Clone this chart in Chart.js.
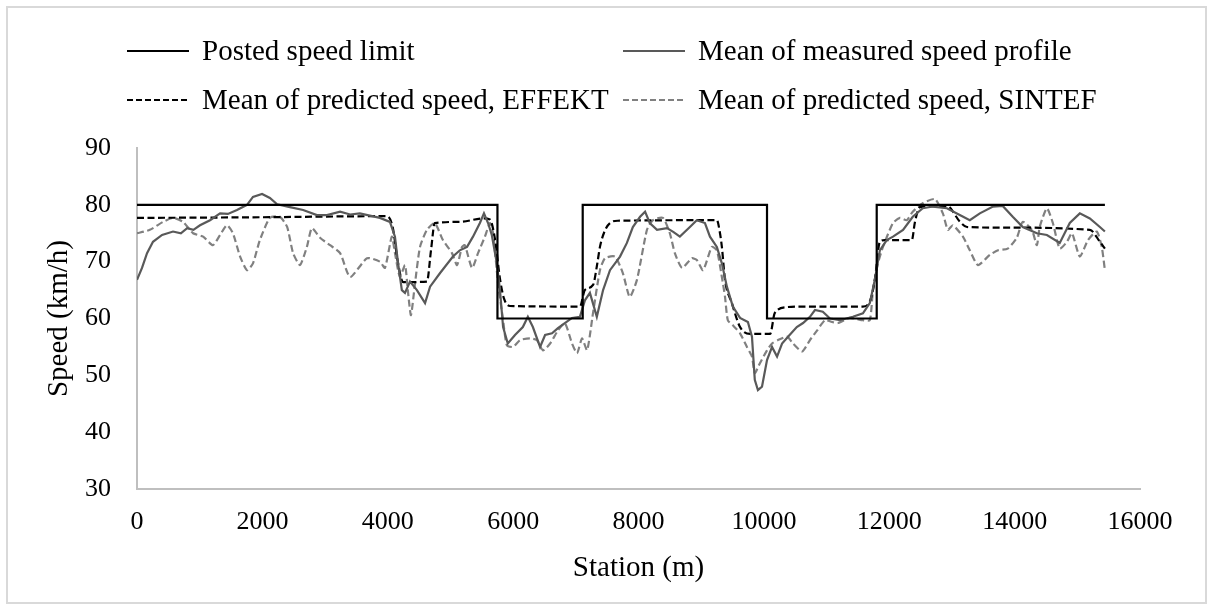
<!DOCTYPE html>
<html>
<head>
<meta charset="utf-8">
<script src="https://cdn.jsdelivr.net/npm/chart.js@4.4.1/dist/chart.umd.min.js"></script>
<style>
  html, body { margin: 0; padding: 0; background: #fff; }
  #wrap { width: 1213px; height: 610px; }
</style>
</head>
<body>
<div id="wrap"><canvas id="speedChart" width="1213" height="610"></canvas></div>
<script>
'use strict';

// ── Data (station m, speed km/h) ─────────────────────────────
const stationTicks = [0, 2000, 4000, 6000, 8000, 10000, 12000, 14000, 16000];
const speedTicks   = [30, 40, 50, 60, 70, 80, 90];

const seriesLabels = [
    'Posted speed limit',
    'Mean of measured speed profile',
    'Mean of predicted speed, EFFEKT',
    'Mean of predicted speed, SINTEF'
];

const postedLimit = [
    [0, 80], [5750, 80], [5750, 60], [7110, 60], [7110, 80],
    [10050, 80], [10050, 60], [11800, 60], [11800, 80], [15440, 80]
];

const measuredProfile = [
    [0, 66.8], [80, 68.9], [160, 71.5], [255, 73.5], [400, 74.7], [575, 75.3], [700, 75.0], [800, 75.9],
    [900, 75.6], [1005, 76.4], [1165, 77.3], [1325, 78.5], [1450, 78.4], [1595, 79.1], [1755, 80.0], [1850, 81.4],
    [1995, 81.9], [2120, 81.2], [2235, 80.1], [2440, 79.6], [2650, 79.1], [2870, 78.2], [3030, 78.2], [3240, 78.8],
    [3400, 78.3], [3555, 78.5], [3875, 77.7], [4035, 77.0], [4115, 74.4], [4165, 69.7], [4225, 65.0], [4275, 64.5],
    [4355, 66.5], [4465, 65.0], [4595, 62.7], [4675, 65.6], [4835, 68.0], [5040, 70.9], [5150, 72.0], [5265, 72.6],
    [5360, 74.4], [5470, 76.8], [5535, 78.5], [5600, 76.8], [5660, 74.7], [5740, 69.7], [5790, 65.0], [5840, 58.5],
    [5915, 55.6], [6030, 57.1], [6155, 58.5], [6235, 60.3], [6315, 58.5], [6430, 55.0], [6510, 57.1], [6620, 57.4],
    [6715, 58.3], [6825, 59.2], [6940, 60.1], [7065, 60.3], [7145, 63.2], [7225, 64.5], [7335, 60.3], [7435, 65.0],
    [7545, 68.5], [7705, 70.9], [7815, 73.3], [7910, 76.1], [8025, 77.9], [8105, 78.8], [8180, 76.8], [8295, 75.6],
    [8455, 75.9], [8560, 75.2], [8660, 74.4], [8820, 76.1], [8930, 77.3], [9060, 76.8], [9140, 74.4], [9250, 72.6],
    [9330, 69.7], [9410, 65.6], [9505, 62.1], [9620, 60.1], [9745, 59.4], [9810, 56.8], [9855, 49.2], [9905, 47.4],
    [9970, 48.0], [10050, 52.7], [10130, 55.0], [10210, 53.3], [10290, 55.6], [10385, 56.8], [10525, 58.5], [10625, 59.2],
    [10735, 60.3], [10815, 61.5], [10940, 61.2], [11055, 60.0], [11215, 59.7], [11420, 60.3], [11580, 60.9], [11690, 62.7],
    [11770, 66.8], [11850, 72.0], [11960, 73.8], [12060, 74.4], [12220, 75.6], [12375, 77.9], [12535, 79.4], [12695, 79.7],
    [12920, 79.4], [13125, 78.2], [13285, 77.3], [13445, 78.5], [13655, 79.7], [13810, 79.8], [13970, 77.9], [14130, 76.1],
    [14355, 75.0], [14515, 74.7], [14720, 73.3], [14880, 76.8], [15040, 78.5], [15200, 77.6], [15360, 76.1], [15440, 75.3]
];

const effektPrediction = [
    [0, 77.7], [1800, 77.8], [3990, 78.0], [4080, 76.0], [4160, 70.0], [4245, 66.4], [4625, 66.5], [4690, 72.0],
    [4750, 76.8], [5150, 77.0], [5520, 77.6], [5630, 77.4], [5710, 74.0], [5790, 67.0], [5855, 63.5], [5950, 62.2],
    [7065, 62.1], [7145, 65.0], [7275, 65.9], [7340, 69.5], [7385, 72.6], [7465, 75.5], [7545, 76.8], [7670, 77.2],
    [9250, 77.3], [9300, 75.0], [9330, 72.6], [9380, 66.8], [9490, 62.7], [9620, 58.5], [9780, 57.3], [10100, 57.3],
    [10175, 61.0], [10370, 62.0], [10575, 62.1], [11580, 62.1], [11690, 63.0], [11770, 66.8], [11850, 73.5], [11930, 73.8],
    [12360, 73.8], [12410, 77.0], [12490, 79.6], [12920, 79.8], [13130, 77.0], [13240, 76.1], [13765, 76.0], [15200, 75.6],
    [15360, 73.5], [15440, 72.3]
];

const sintefPrediction = [
    [0, 75.0], [205, 75.6], [415, 77.0], [575, 77.7], [735, 77.0], [895, 75.0], [1055, 74.4], [1210, 72.9],
    [1325, 74.7], [1435, 76.4], [1530, 75.0], [1645, 70.9], [1755, 68.5], [1850, 69.7], [1960, 73.8], [2120, 77.7],
    [2280, 77.9], [2395, 76.1], [2490, 71.5], [2600, 69.4], [2710, 72.6], [2790, 75.9], [2920, 74.2], [3080, 72.9],
    [3240, 71.5], [3400, 67.3], [3670, 70.6], [3875, 70.0], [3955, 68.9], [4065, 74.4], [4115, 71.5], [4195, 67.3],
    [4275, 69.4], [4320, 65.0], [4370, 60.6], [4435, 66.2], [4515, 72.6], [4625, 75.6], [4750, 76.8], [4880, 73.8],
    [5025, 71.5], [5105, 69.4], [5185, 72.6], [5230, 72.9], [5345, 68.9], [5440, 71.5], [5550, 74.4], [5630, 76.8],
    [5680, 75.0], [5760, 66.2], [5840, 59.7], [5900, 55.3], [6000, 55.0], [6110, 56.2], [6270, 56.5], [6380, 56.2],
    [6475, 54.4], [6590, 55.6], [6715, 57.9], [6825, 59.2], [6940, 55.6], [7020, 53.9], [7100, 56.5], [7180, 54.4],
    [7275, 61.0], [7385, 68.5], [7465, 70.6], [7625, 70.9], [7750, 68.0], [7860, 63.8], [7975, 66.8], [8135, 75.6],
    [8230, 77.3], [8390, 77.7], [8500, 75.0], [8580, 71.5], [8695, 68.9], [8850, 70.6], [8930, 70.3], [9030, 68.5],
    [9170, 72.6], [9250, 72.0], [9330, 67.3], [9380, 63.8], [9425, 59.7], [9505, 58.8], [9620, 57.4], [9730, 55.0],
    [9810, 53.3], [9855, 50.4], [9935, 52.1], [10050, 54.4], [10130, 55.6], [10225, 56.2], [10370, 56.8], [10465, 55.6],
    [10610, 54.2], [10735, 56.2], [10850, 57.9], [10975, 59.7], [11085, 59.4], [11180, 59.2], [11370, 60.1], [11580, 59.7],
    [11690, 59.7], [11740, 65.0], [11820, 69.7], [11900, 72.6], [12060, 76.8], [12170, 77.7], [12280, 77.3], [12375, 78.8],
    [12535, 80.3], [12730, 81.0], [12855, 78.5], [12935, 75.6], [13015, 76.4], [13175, 74.4], [13285, 72.0], [13415, 69.4],
    [13605, 71.2], [13735, 72.0], [13890, 72.3], [14035, 74.2], [14130, 77.0], [14275, 75.6], [14355, 72.9], [14400, 76.1],
    [14515, 79.4], [14610, 76.8], [14720, 72.3], [14835, 73.5], [14915, 75.0], [15040, 70.9], [15170, 73.8], [15310, 75.3],
    [15390, 72.6], [15440, 68.5]
];

// ── Helpers ───────────────────────────────────────────────────
const FONT = '"Liberation Serif", "Times New Roman", serif';
const toPoints = arr => arr.map(([x, y]) => ({ x, y }));

// legend in two fixed columns + outer frame, like the Excel export
const frameAndLegend = {
    id: 'frameAndLegend',
    afterDraw(chart) {
        const ctx = chart.ctx;
        ctx.save();
        ctx.strokeStyle = '#d9d9d9';
        ctx.lineWidth = 2;
        ctx.setLineDash([]);
        ctx.strokeRect(7, 7, 1199, 596);

        const slots = [[127, 51], [623, 51], [127, 100], [623, 100]];
        chart.data.datasets.forEach((ds, i) => {
            const [x, y] = slots[i];
            ctx.beginPath();
            ctx.strokeStyle = ds.borderColor;
            ctx.lineWidth = ds.borderWidth;
            ctx.setLineDash(ds.borderDash && ds.borderDash.length ? [6, 3] : []);
            ctx.moveTo(x, y);
            ctx.lineTo(x + 62, y);
            ctx.stroke();
            ctx.setLineDash([]);
            ctx.fillStyle = '#000';
            ctx.font = '29px ' + FONT;
            ctx.textBaseline = 'middle';
            ctx.textAlign = 'left';
            ctx.fillText(ds.label, x + 75, y + 1);
        });
        ctx.restore();
    }
};

new Chart(document.getElementById('speedChart').getContext('2d'), {
    type: 'line',
    data: {
        datasets: [
            { label: seriesLabels[0], data: toPoints(postedLimit),      borderColor: '#000000', borderWidth: 2.2, tension: 0 },
            { label: seriesLabels[1], data: toPoints(measuredProfile),  borderColor: '#595959', borderWidth: 2.2, tension: 0 },
            { label: seriesLabels[2], data: toPoints(effektPrediction), borderColor: '#000000', borderWidth: 2.2, borderDash: [7, 3.5], cubicInterpolationMode: 'monotone' },
            { label: seriesLabels[3], data: toPoints(sintefPrediction), borderColor: '#808080', borderWidth: 2.2, borderDash: [7, 3.5], tension: 0.2 }
        ]
    },
    options: {
        responsive: false,
        animation: false,
        devicePixelRatio: 1,
        layout: { padding: { top: 148, right: 73, bottom: 10, left: 10 } },
        elements: { point: { radius: 0 }, line: { fill: false, borderCapStyle: 'butt' } },
        plugins: { legend: { display: false }, tooltip: { enabled: false } },
        scales: {
            x: {
                type: 'linear', min: 0, max: 16000,
                afterBuildTicks: s => { s.ticks = stationTicks.map(v => ({ value: v })); },
                afterFit: s => { s.height = 111; },
                grid: { display: false, drawTicks: false },
                border: { display: true, color: '#bfbfbf', width: 2 },
                ticks: { color: '#000', font: { family: FONT, size: 26 }, padding: 18, maxRotation: 0, callback: v => String(v) },
                title: { display: true, text: 'Station (m)', color: '#000', font: { family: FONT, size: 29 }, padding: { top: 0, bottom: 14 } }
            },
            y: {
                min: 30, max: 90,
                afterBuildTicks: s => { s.ticks = speedTicks.map(v => ({ value: v })); },
                afterFit: s => { s.width = 127; },
                grid: { display: false, drawTicks: false },
                border: { display: true, color: '#bfbfbf', width: 2 },
                ticks: { color: '#000', font: { family: FONT, size: 26 }, padding: 26, callback: v => String(v) },
                title: { display: true, text: 'Speed (km/h)', color: '#000', font: { family: FONT, size: 29 }, padding: { top: 32, bottom: 0 } }
            }
        }
    },
    plugins: [frameAndLegend]
});
</script>
</body>
</html>
